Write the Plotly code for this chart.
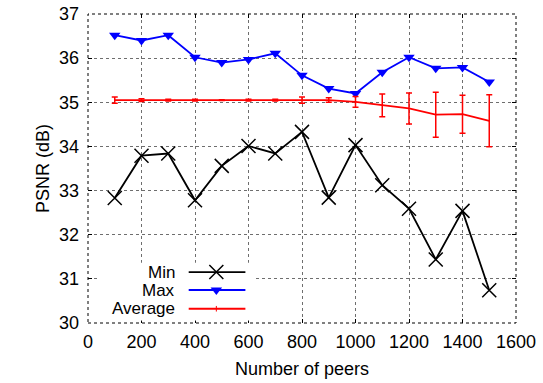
import plotly.graph_objects as go

# Number of peers in the overlay
peers = [100, 200, 300, 400, 500, 600, 700, 800, 900, 1000, 1100, 1200, 1300, 1400, 1500]

# PSNR statistics (dB)
psnr_min = [32.83, 33.79, 33.84, 32.78, 33.56, 34.01, 33.84, 34.33, 32.84, 34.03,
            33.12, 32.59, 31.44, 32.54, 30.74]
psnr_max = [36.52, 36.40, 36.52, 36.02, 35.90, 35.97, 36.11, 35.61, 35.31, 35.20,
            35.68, 36.02, 35.77, 35.79, 35.46]
psnr_avg = [35.05, 35.05, 35.05, 35.05, 35.05, 35.05, 35.05, 35.05, 35.05, 35.01,
            34.93, 34.86, 34.72, 34.73, 34.58]
psnr_avg_err = [0.07, 0.03, 0.02, 0.02, 0.01, 0.02, 0.02, 0.07, 0.05, 0.12,
                0.26, 0.35, 0.51, 0.43, 0.59]

x_ticks = [0, 200, 400, 600, 800, 1000, 1200, 1400, 1600]
y_ticks = [30, 31, 32, 33, 34, 35, 36, 37]

series_names = ["Min", "Max", "Average"]

FONT = "Liberation Sans, Arial, sans-serif"
FS = 18
KEY_FS = 17
BLACK = "#000000"
BLUE = "#0000ff"
RED = "#ff0000"
GRID = "rgb(110,110,110)"
LW = 1.8

fig = go.Figure()

fig.add_trace(go.Scatter(
    x=peers, y=psnr_min, mode="lines+markers",
    line=dict(color=BLACK, width=LW),
    marker=dict(symbol="x-thin", size=14, line=dict(color=BLACK, width=1.5)),
    showlegend=False, cliponaxis=False))

fig.add_trace(go.Scatter(
    x=peers, y=psnr_max, mode="lines+markers",
    line=dict(color=BLUE, width=LW),
    marker=dict(symbol="triangle-down", size=10, color=BLUE),
    showlegend=False, cliponaxis=False))

fig.add_trace(go.Scatter(
    x=peers, y=psnr_avg, mode="lines",
    line=dict(color=RED, width=LW),
    error_y=dict(type="data", array=psnr_avg_err, visible=True,
                 color=RED, thickness=1.5, width=3),
    showlegend=False, cliponaxis=False))

# Key box: a small inset subplot with its own white background,
# its local [0, 1] ranges span the box area
key_y = [0.839, 0.528, 0.204]
key_x0, key_x1, key_xm = 0.578, 0.937, 0.753
text_x = 0.504

key_styles = [
    dict(line=dict(color=BLACK, width=LW),
         marker=dict(symbol="x-thin", size=14, line=dict(color=BLACK, width=1.5))),
    dict(line=dict(color=BLUE, width=LW),
         marker=dict(symbol="triangle-down", size=10, color=BLUE)),
    dict(line=dict(color=RED, width=LW),
         marker=dict(symbol="line-ns", size=4, line=dict(color=RED, width=1))),
]
for name, ky, st in zip(series_names, key_y, key_styles):
    fig.add_trace(go.Scatter(
        x=[key_x0, key_x1], y=[ky, ky], mode="lines", line=st["line"],
        xaxis="x2", yaxis="y2", showlegend=False, hoverinfo="skip"))
    fig.add_trace(go.Scatter(
        x=[key_xm], y=[ky], mode="markers", marker=st["marker"],
        xaxis="x2", yaxis="y2", showlegend=False, hoverinfo="skip"))
    fig.add_annotation(x=text_x, y=ky, xref="x2", yref="y2", text=name,
                       showarrow=False, xanchor="right", yanchor="middle",
                       font=dict(family=FONT, size=KEY_FS, color=BLACK))

# Dotted plot frame
fig.add_shape(type="rect", xref="x domain", yref="y domain",
              x0=0, x1=1, y0=0, y1=1,
              line=dict(color=BLACK, width=1, dash="dot"), layer="above")

axis_common = dict(
    showgrid=True, gridcolor=GRID, griddash="dot", gridwidth=1,
    zeroline=False, showline=False, mirror="ticks", automargin=False,
    ticks="inside", ticklen=4, tickwidth=1, tickcolor=BLACK,
    tickfont=dict(family=FONT, size=FS, color=BLACK),
)

fig.update_layout(
    width=543, height=383,
    margin=dict(l=87.5, r=27.3, t=14.3, b=59.7, autoexpand=False),
    paper_bgcolor="white", plot_bgcolor="white",
    font=dict(family=FONT, size=FS, color=BLACK),
    xaxis=dict(range=[0, 1600], tickvals=x_ticks, domain=[0, 1],
               title=dict(text="Number of peers", standoff=11,
                          font=dict(family=FONT, size=FS)),
               ticklabelstandoff=6, **axis_common),
    yaxis=dict(range=[30, 37], tickvals=y_ticks, domain=[0, 1],
               title=dict(text="PSNR (dB)", standoff=4,
                          font=dict(family=FONT, size=FS)),
               ticklabelstandoff=8, **axis_common),
    xaxis2=dict(range=[0, 1], domain=[0.022, 0.391], visible=False,
                anchor="y2", automargin=False),
    yaxis2=dict(range=[0, 1], domain=[0.008, 0.195], visible=False,
                anchor="x2", automargin=False),
)

fig.write_html("out.html")
